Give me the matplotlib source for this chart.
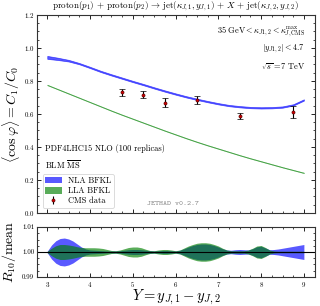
import numpy as np
import matplotlib
matplotlib.use("Agg")
import matplotlib.pyplot as plt
from matplotlib.patches import Patch
from matplotlib.ticker import MultipleLocator

plt.rcParams['mathtext.fontset'] = 'cm'
plt.rcParams['font.family'] = 'serif'
plt.rcParams['font.serif'] = ['cmr10']
plt.rcParams['axes.formatter.use_mathtext'] = True

# main panel: <cos phi> vs rapidity interval Y
Y_main = [3.00, 3.25, 3.50, 3.75, 4.00, 4.25, 4.50, 4.75, 5.00, 5.25, 5.50, 5.75, 6.00,
          6.25, 6.50, 6.75, 7.00, 7.25, 7.50, 7.75, 8.00, 8.25, 8.50, 8.75, 9.00]
nla_mean = [0.943, 0.934, 0.923, 0.905, 0.882, 0.858, 0.837, 0.817, 0.797, 0.778, 0.758, 0.739, 0.721,
            0.704, 0.689, 0.675, 0.662, 0.651, 0.644, 0.639, 0.637, 0.638, 0.642, 0.655, 0.685]
nla_hw = [0.009, 0.007, 0.005, 0.004, 0.004, 0.004, 0.004, 0.004, 0.004, 0.004, 0.004, 0.004, 0.004,
          0.004, 0.004, 0.004, 0.004, 0.004, 0.004, 0.004, 0.004, 0.004, 0.004, 0.004, 0.004]
lla_mean = [0.776, 0.750, 0.724, 0.698, 0.672, 0.646, 0.620, 0.595, 0.571, 0.547, 0.523, 0.499, 0.476,
            0.453, 0.431, 0.410, 0.390, 0.370, 0.350, 0.331, 0.313, 0.295, 0.277, 0.260, 0.243]
lla_hw = [0.002] * 25

# CMS data
cms_Y = [4.75, 5.25, 5.75, 6.5, 7.5, 8.75]
cms_val = [0.731, 0.717, 0.669, 0.683, 0.588, 0.614]
cms_err = [0.020, 0.023, 0.027, 0.025, 0.017, 0.037]

# ratio panel: half widths of R_10/mean bands
Y_ratio = [3.0, 3.1, 3.2, 3.3, 3.4, 3.5, 3.6, 3.7, 3.8, 3.9,
           4.0, 4.1, 4.2, 4.3, 4.4, 4.5, 4.6, 4.7, 4.8, 4.9,
           5.0, 5.1, 5.2, 5.3, 5.4, 5.5, 5.6, 5.7, 5.8, 5.9,
           6.0, 6.1, 6.2, 6.3, 6.4, 6.5, 6.6, 6.7, 6.8, 6.9,
           7.0, 7.1, 7.2, 7.3, 7.4, 7.5, 7.6, 7.7, 7.8, 7.9,
           8.0, 8.1, 8.2, 8.3, 8.4, 8.5, 8.6, 8.7, 8.8, 8.9, 9.0]
nla_rw = [0.0003, 0.0028, 0.0045, 0.0054, 0.0056, 0.0052, 0.0044, 0.0032, 0.0020, 0.0012,
          0.0008, 0.0007, 0.0006, 0.0005, 0.0004, 0.0004, 0.0004, 0.0005, 0.0007, 0.0009,
          0.0010, 0.0010, 0.0009, 0.0007, 0.0005, 0.0004, 0.0005, 0.0006, 0.0006, 0.0005,
          0.0004, 0.0007, 0.0013, 0.0020, 0.0026, 0.0030, 0.0032, 0.0032, 0.0030, 0.0026,
          0.0020, 0.0013, 0.0008, 0.0007, 0.0009, 0.0010, 0.0009, 0.0008, 0.0013, 0.0021,
          0.0023, 0.0016, 0.0009, 0.0010, 0.0012, 0.0015, 0.0018, 0.0021, 0.0024, 0.0027, 0.0030]
lla_rw = [0.0003, 0.0015, 0.0025, 0.0030, 0.0030, 0.0028, 0.0025, 0.0021, 0.0018, 0.0017,
          0.0017, 0.0017, 0.0016, 0.0014, 0.0010, 0.0006, 0.0005, 0.0008, 0.0013, 0.0018,
          0.0020, 0.0020, 0.0017, 0.0011, 0.0006, 0.0005, 0.0008, 0.0010, 0.0010, 0.0008,
          0.0005, 0.0008, 0.0016, 0.0024, 0.0030, 0.0035, 0.0037, 0.0037, 0.0035, 0.0030,
          0.0024, 0.0015, 0.0008, 0.0005, 0.0005, 0.0005, 0.0005, 0.0008, 0.0015, 0.0024,
          0.0026, 0.0018, 0.0008, 0.0004, 0.0003, 0.0003, 0.0003, 0.0003, 0.0003, 0.0003, 0.0003]

blue = '#0000ff'
green = '#008000'
alpha = 0.65

fig = plt.figure(figsize=(3.2, 3.06), dpi=100)
ax = fig.add_axes([0.1156, 0.304, 0.8688, 0.647])
axr = fig.add_axes([0.1156, 0.095, 0.8688, 0.163], sharex=ax)

x = np.array(Y_main)
ax.fill_between(x, np.array(nla_mean) - np.array(nla_hw), np.array(nla_mean) + np.array(nla_hw),
                color=blue, alpha=alpha, lw=0.5)
ax.fill_between(x, np.array(lla_mean) - np.array(lla_hw), np.array(lla_mean) + np.array(lla_hw),
                color=green, alpha=alpha, lw=0.3)
ax.errorbar(cms_Y, cms_val, yerr=cms_err, fmt='o', color='black', ms=2.2,
            mfc='#d40000', mec='#5a0000', mew=0.5, elinewidth=0.8, capsize=2, capthick=0.8)

xr = np.array(Y_ratio)
axr.fill_between(xr, 1 - np.array(nla_rw), 1 + np.array(nla_rw), color=blue, alpha=alpha, lw=0)
axr.fill_between(xr, 1 - np.array(lla_rw), 1 + np.array(lla_rw), color=green, alpha=alpha, lw=0)
axr.axhline(1.0, color='black', lw=0.8)

ax.set_xlim(2.76, 9.26)
ax.set_ylim(0.0, 1.2)
axr.set_ylim(0.99, 1.01)

for a in (ax, axr):
    a.tick_params(which='both', direction='in', top=True, right=True, labelsize=5, pad=2)
    a.tick_params(which='major', length=3, width=0.6)
    a.tick_params(which='minor', length=1.6, width=0.5)
    a.xaxis.set_major_locator(MultipleLocator(1))
    a.xaxis.set_minor_locator(MultipleLocator(0.25))
    for s in a.spines.values():
        s.set_linewidth(0.8)
        s.set_color('#333333')
ax.yaxis.set_major_locator(MultipleLocator(0.2))
ax.yaxis.set_minor_locator(MultipleLocator(0.05))
axr.yaxis.set_major_locator(MultipleLocator(0.01))
axr.yaxis.set_minor_locator(MultipleLocator(0.0025))
ax.tick_params(labelbottom=False)
axr.yaxis.set_major_formatter(plt.FormatStrFormatter('%.2f'))

ax.set_ylabel(r'$\langle \cos \varphi \rangle = C_1/C_0$', fontsize=10)
axr.set_ylabel(r'$R_{10}/{\rm mean}$', fontsize=10)
axr.set_xlabel(r'$Y = y_{J,1} - y_{J,2}$', fontsize=10.5)
ax.yaxis.set_label_coords(-0.053, 0.5)
axr.yaxis.set_label_coords(-0.068, 0.5)
axr.xaxis.set_label_coords(0.5, -0.215)

fig.text(0.547, 0.98,
         r'$\mathrm{proton}(p_1)\,+\,\mathrm{proton}(p_2)\,\rightarrow\,\mathrm{jet}(\kappa_{J,1},y_{J,1})\,+\,X\,+\,\mathrm{jet}(\kappa_{J,2},y_{J,2})$',
         ha='center', va='center', fontsize=6.5)

ax.text(0.965, 0.917, r'$35\ \mathrm{GeV} < \kappa_{J1,2} < \kappa^{\rm max}_{J,\mathrm{CMS}}$',
        transform=ax.transAxes, ha='right', va='center', fontsize=6)
ax.text(0.965, 0.83, r'$|y_{J1,2}| < 4.7$',
        transform=ax.transAxes, ha='right', va='center', fontsize=6)
ax.text(0.965, 0.74, r'$\sqrt{s} = 7\ \mathrm{TeV}$',
        transform=ax.transAxes, ha='right', va='center', fontsize=6)

ax.text(0.03, 0.325, 'PDF4LHC15 NLO (100 replicas)', transform=ax.transAxes,
        ha='left', va='center', fontsize=6)
ax.text(0.03, 0.245, r'BLM $\overline{\rm MS}$', transform=ax.transAxes,
        ha='left', va='center', fontsize=6)
ax.text(0.397, 0.045, 'JETHAD v0.2.7', transform=ax.transAxes, ha='left', va='center',
        fontsize=5.5, family='cmtt10', color='#888888')

handles = [Patch(facecolor=blue, alpha=alpha, label='NLA BFKL'),
           Patch(facecolor=green, alpha=alpha, label='LLA BFKL'),
           ax.errorbar([], [], yerr=[], fmt='o', color='black', ms=2.2, mfc='#d40000',
                       mec='#5a0000', mew=0.5, elinewidth=0.8, capsize=2, capthick=0.8)]
leg = ax.legend(handles, ['NLA BFKL', 'LLA BFKL', 'CMS data'], loc='lower left',
                bbox_to_anchor=(0.005, 0.005), fontsize=6, handlelength=2.0, handleheight=0.8,
                labelspacing=0.2, borderpad=0.3, handletextpad=0.8, frameon=True, fancybox=True)
leg.get_frame().set_edgecolor('#cccccc')
leg.get_frame().set_linewidth(0.6)

fig.savefig('out.png', dpi=100)
